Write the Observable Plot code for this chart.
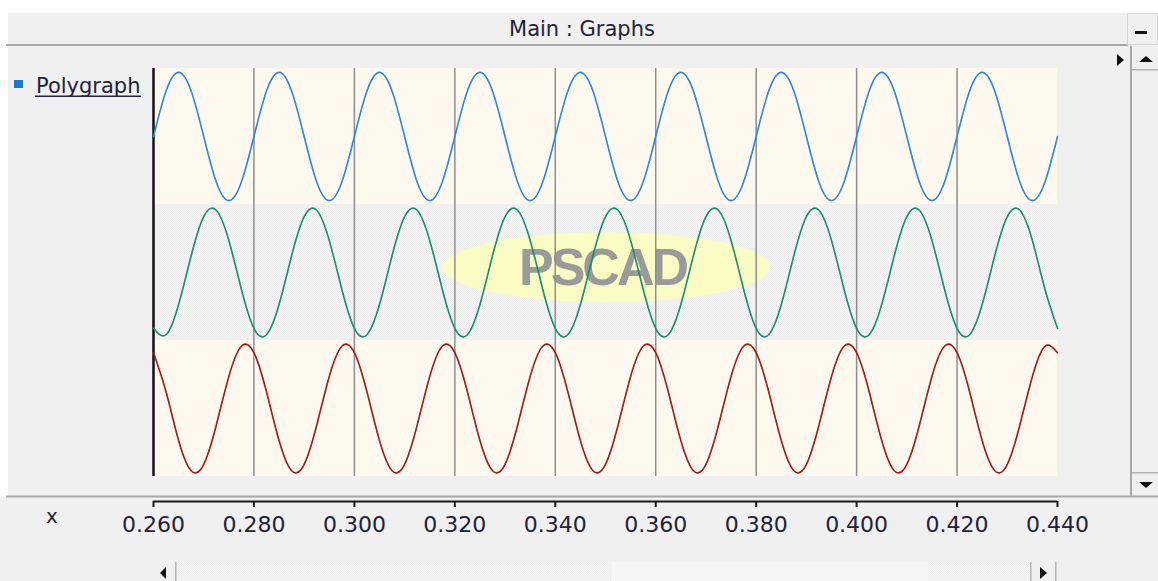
<!DOCTYPE html>
<html>
<head>
<meta charset="utf-8">
<script src="https://cdn.jsdelivr.net/npm/d3@7"></script>
<script src="https://cdn.jsdelivr.net/npm/@observablehq/plot@0.6"></script>
<style>
html, body { margin: 0; padding: 0; background: #ffffff; }
#win { position: relative; width: 1158px; height: 581px; overflow: hidden; font-family: "DejaVu Sans", sans-serif; }
#chrome { position: absolute; left: 0; top: 0; }
#main { position: absolute; left: 0; top: 67px; }
#axis { position: absolute; left: 0; top: 496px; }
</style>
</head>
<body>
<div id="win">
<svg id="chrome" width="1158" height="581" font-family="DejaVu Sans" fill="#22223a">
  <defs>
    <pattern id="dither" width="2" height="2" patternUnits="userSpaceOnUse">
      <rect width="2" height="2" fill="#f5f5f5"/>
      <rect width="1" height="1" fill="#eaeaea"/>
      <rect x="1" y="1" width="1" height="1" fill="#eeeeee"/>
    </pattern>
    <pattern id="track" width="2" height="2" patternUnits="userSpaceOnUse">
      <rect width="2" height="2" fill="#f8f8f8"/>
      <rect width="1" height="1" fill="#ebebeb"/>
      <rect x="1" y="1" width="1" height="1" fill="#ebebeb"/>
    </pattern>
  </defs>
  <rect x="0" y="0" width="1158" height="581" fill="#ffffff"/>
  <rect x="8" y="13" width="1150" height="568" fill="#f0f0f0"/>
  <rect x="0" y="497" width="1158" height="84" fill="#f0f0f0"/>
  <!-- title bar -->
  <rect x="6" y="44" width="1122" height="2" fill="#a8a8a8"/>
  <text x="582" y="36" text-anchor="middle" font-size="21">Main : Graphs</text>
  <rect x="1127.5" y="13.5" width="30" height="31" fill="#f0f0f0" stroke="#d6d6d6"/>
  <rect x="1135" y="31" width="12" height="3" fill="#111111"/>
  <!-- left panel -->
  <rect x="14" y="80" width="9" height="8" fill="#1f76d6"/>
  <text x="36" y="93" font-size="21">Polygraph</text>
  <rect x="35" y="95.5" width="106" height="1.5" fill="#22223a"/>
  <!-- right arrow and vertical scrollbar -->
  <polygon points="1117,54 1117,66 1124,60" fill="#111111"/>
  <rect x="1130" y="46" width="2" height="451" fill="#a8a8a8"/>
  <rect x="1132" y="69" width="26" height="1.5" fill="#b4b4b4"/>
  <polygon points="1139,62 1153,62 1146,56" fill="#111111"/>
  <rect x="1132" y="472" width="26" height="1.5" fill="#b4b4b4"/>
  <polygon points="1139,482 1153,482 1146,488" fill="#111111"/>
  <!-- bottom separator -->
  <rect x="6" y="495.5" width="1152" height="2" fill="#a8a8a8"/>
  <text x="52" y="523" text-anchor="middle" font-size="20">x</text>
  <!-- horizontal scrollbar -->
  <rect x="153" y="562" width="22" height="19" fill="#f0f0f0"/>
  <rect x="175" y="562" width="1.5" height="19" fill="#b4b4b4"/>
  <polygon points="166,567 166,579 160,573" fill="#111111"/>
  <rect x="177" y="562" width="435" height="19" fill="url(#track)"/>
  <rect x="612" y="562" width="316" height="19" fill="#f7f7f7"/>
  <rect x="928" y="562" width="102" height="19" fill="url(#track)"/>
  <rect x="1030" y="562" width="1.5" height="19" fill="#b4b4b4"/>
  <polygon points="1040,567 1040,579 1047,573" fill="#111111"/>
  <rect x="1055" y="562" width="1.5" height="19" fill="#b4b4b4"/>
</svg>
<div id="main"></div>
<div id="axis"></div>
</div>
<script>
// ---- data ----
const names = ["Phase A", "Phase B", "Phase C"];
const lineColors = ["#2f84df", "#1c8b6f", "#a3171c"];

const times = [
  0.2600,0.2625,0.2650,0.2675,0.2700,0.2725,0.2750,0.2775,
  0.2800,0.2825,0.2850,0.2875,0.2900,0.2925,0.2950,0.2975,
  0.3000,0.3025,0.3050,0.3075,0.3100,0.3125,0.3150,0.3175,
  0.3200,0.3225,0.3250,0.3275,0.3300,0.3325,0.3350,0.3375,
  0.3400,0.3425,0.3450,0.3475,0.3500,0.3525,0.3550,0.3575,
  0.3600,0.3625,0.3650,0.3675,0.3700,0.3725,0.3750,0.3775,
  0.3800,0.3825,0.3850,0.3875,0.3900,0.3925,0.3950,0.3975,
  0.4000,0.4025,0.4050,0.4075,0.4100,0.4125,0.4150,0.4175,
  0.4200,0.4225,0.4250,0.4275,0.4300,0.4325,0.4350,0.4375,
  0.4400
];

const phaseA = [
  0,0.71,1,0.71,0,-0.71,-1,-0.71,
  0,0.71,1,0.71,0,-0.71,-1,-0.71,
  0,0.71,1,0.71,0,-0.71,-1,-0.71,
  0,0.71,1,0.71,0,-0.71,-1,-0.71,
  0,0.71,1,0.71,0,-0.71,-1,-0.71,
  0,0.71,1,0.71,0,-0.71,-1,-0.71,
  0,0.71,1,0.71,0,-0.71,-1,-0.71,
  0,0.71,1,0.71,0,-0.71,-1,-0.71,
  0,0.71,1,0.71,0,-0.71,-1,-0.71,
  0
];

const phaseB = [
  -0.87,-0.97,-0.5,0.26,0.87,0.97,0.5,-0.26,
  -0.87,-0.97,-0.5,0.26,0.87,0.97,0.5,-0.26,
  -0.87,-0.97,-0.5,0.26,0.87,0.97,0.5,-0.26,
  -0.87,-0.97,-0.5,0.26,0.87,0.97,0.5,-0.26,
  -0.87,-0.97,-0.5,0.26,0.87,0.97,0.5,-0.26,
  -0.87,-0.97,-0.5,0.26,0.87,0.97,0.5,-0.26,
  -0.87,-0.97,-0.5,0.26,0.87,0.97,0.5,-0.26,
  -0.87,-0.97,-0.5,0.26,0.87,0.97,0.5,-0.26,
  -0.87,-0.97,-0.5,0.26,0.87,0.97,0.5,-0.26,
  -0.87
];

const phaseC = [
  0.87,0.26,-0.5,-0.97,-0.87,-0.26,0.5,0.97,
  0.87,0.26,-0.5,-0.97,-0.87,-0.26,0.5,0.97,
  0.87,0.26,-0.5,-0.97,-0.87,-0.26,0.5,0.97,
  0.87,0.26,-0.5,-0.97,-0.87,-0.26,0.5,0.97,
  0.87,0.26,-0.5,-0.97,-0.87,-0.26,0.5,0.97,
  0.87,0.26,-0.5,-0.97,-0.87,-0.26,0.5,0.97,
  0.87,0.26,-0.5,-0.97,-0.87,-0.26,0.5,0.97,
  0.87,0.26,-0.5,-0.97,-0.87,-0.26,0.5,0.97,
  0.87,0.26,-0.5,-0.97,-0.87,-0.26,0.5,0.97,
  0.87
];

const xTicks = [0.26, 0.28, 0.30, 0.32, 0.34, 0.36, 0.38, 0.40, 0.42, 0.44];
const gridTicks = [0.28, 0.30, 0.32, 0.34, 0.36, 0.38, 0.40, 0.42];
const xDomain = [0.26, 0.44];
const yDomain = [-1.06, 1.06];
const watermarkText = "PSCAD";

// ---- build tables ----
const seriesValues = [phaseA, phaseB, phaseC];
const rows = names.map((name, i) => seriesValues[i].map((v, j) => ({t: times[j], v, name})));
const creamBands = [{name: names[0]}, {name: names[2]}];
const grayBands = [{name: names[1]}];
const watermark = [{name: names[1], label: watermarkText}];

const mainPlot = Plot.plot({
  width: 1158,
  height: 410,
  marginLeft: 153,
  marginRight: 101,
  marginTop: 0,
  marginBottom: 0,
  x: {domain: xDomain, axis: null},
  y: {domain: yDomain, axis: null},
  fy: {domain: names, padding: 0, axis: null},
  style: {background: "transparent", overflow: "visible"},
  marks: [
    Plot.rect(creamBands, {fy: "name", x1: xDomain[0], x2: xDomain[1], y1: yDomain[0], y2: yDomain[1], fill: "#fdf9ee"}),
    Plot.rect(grayBands, {fy: "name", x1: xDomain[0], x2: xDomain[1], y1: yDomain[0], y2: yDomain[1], fill: "url(#dither)"}),
    Plot.rect(watermark, {fy: "name", x1: 0.3176, x2: 0.3829, y1: -0.47, y2: 0.62, rx: 1000, ry: 1000, fill: "#fbfbc4"}),
    Plot.text(watermark, {fy: "name", x: () => 0.3494, y: () => 0.07, text: "label", fontSize: 52, fontWeight: "bold", fontFamily: "Liberation Sans, Arial, sans-serif", fill: "#9a9a9a"}),
    Plot.ruleX(gridTicks, {stroke: "#8e8e8e", strokeWidth: 1.5}),
    Plot.ruleX([xDomain[0]], {stroke: "#111111", strokeWidth: 2.5}),
    ...rows.map((data, i) => Plot.line(data, {x: "t", y: "v", fy: "name", stroke: lineColors[i], strokeWidth: 1.6, curve: "natural"}))
  ]
});
mainPlot.querySelectorAll("text").forEach(t => t.style.letterSpacing = "-3px");
document.getElementById("main").appendChild(mainPlot);

const axisPlot = Plot.plot({
  width: 1158,
  height: 60,
  marginLeft: 153,
  marginRight: 101,
  marginTop: 4,
  marginBottom: 55,
  x: {domain: xDomain, label: null},
  y: {domain: [0, 1], axis: null},
  style: {background: "transparent", overflow: "visible"},
  marks: [
    Plot.ruleY([0], {stroke: "#1a1a1a", strokeWidth: 2}),
    Plot.axisX(xTicks, {anchor: "bottom", tickSize: 6, tickPadding: 9, tickFormat: d3.format(".3f"), fontSize: 22, fontFamily: "DejaVu Sans", fill: "#22223a", stroke: "#1a1a1a", strokeWidth: 2, label: null})
  ]
});
document.getElementById("axis").appendChild(axisPlot);
</script>
</body>
</html>
